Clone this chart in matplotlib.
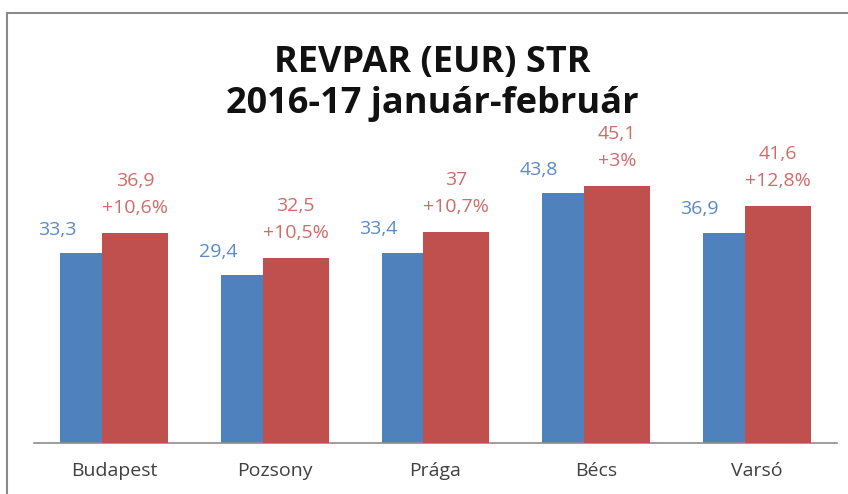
import matplotlib.pyplot as plt
from matplotlib.patches import Rectangle

cities = ["Budapest", "Pozsony", "Prága", "Bécs", "Varsó"]
revpar_2016 = [33.3, 29.4, 33.4, 43.8, 36.9]
revpar_2017 = [36.9, 32.5, 37.0, 45.1, 41.6]
change = ["+10,6%", "+10,5%", "+10,7%", "+3%", "+12,8%"]

blue = "#4f81bd"
red = "#c0504d"

plt.rcParams["font.family"] = ["Open Sans", "DejaVu Sans"]

fig = plt.figure(figsize=(8.48, 4.94), dpi=100)
ax = fig.add_axes([34 / 848, 51 / 494, 803 / 848, 285 / 494])

x = list(range(len(cities)))
w = 0.41
off = 0.13
ax.bar([i - off for i in x], revpar_2016, width=w, color=blue, zorder=2)
ax.bar([i + off for i in x], revpar_2017, width=w, color=red, zorder=3)


def fmt(v):
    return ("%g" % v).replace(".", ",")


for i in x:
    ax.annotate(fmt(revpar_2016[i]), (i - 0.355, revpar_2016[i]), xytext=(0, 17),
                textcoords="offset points", ha="center", va="center",
                fontsize=14, color="#5a8ac6", annotation_clip=False)
    ax.annotate(change[i], (i + off, revpar_2017[i]), xytext=(0, 18),
                textcoords="offset points", ha="center", va="center",
                fontsize=14, color="#cf6b68", annotation_clip=False)
    ax.annotate(fmt(revpar_2017[i]), (i + off, revpar_2017[i]), xytext=(0, 37.5),
                textcoords="offset points", ha="center", va="center",
                fontsize=14, color="#cf6b68", annotation_clip=False)

ax.set_xlim(-0.5, 4.5)
ax.set_ylim(0, 50)
ax.set_xticks(x)
ax.set_xticklabels(cities, fontsize=14, color="#404040")
ax.tick_params(axis="x", length=0, pad=14)
ax.set_yticks([])
for s in ["top", "right", "left"]:
    ax.spines[s].set_visible(False)
ax.spines["bottom"].set_color("#8c8c8c")
ax.spines["bottom"].set_linewidth(1.2)

fig.text(432 / 848, 1 - 63 / 494, "REVPAR (EUR) STR", ha="center", va="center",
         fontsize=26, fontweight="bold", color="#111111")
fig.text(432 / 848, 1 - 104 / 494, "2016-17 január-február", ha="center", va="center",
         fontsize=26, fontweight="bold", color="#111111")

fig.patches.append(Rectangle((7 / 848, -0.1), 1.2, 1 - 13 / 494 + 0.1, transform=fig.transFigure,
                             fill=False, edgecolor="#8a8a8a", linewidth=1.5))

fig.savefig("out.png", dpi=100)
